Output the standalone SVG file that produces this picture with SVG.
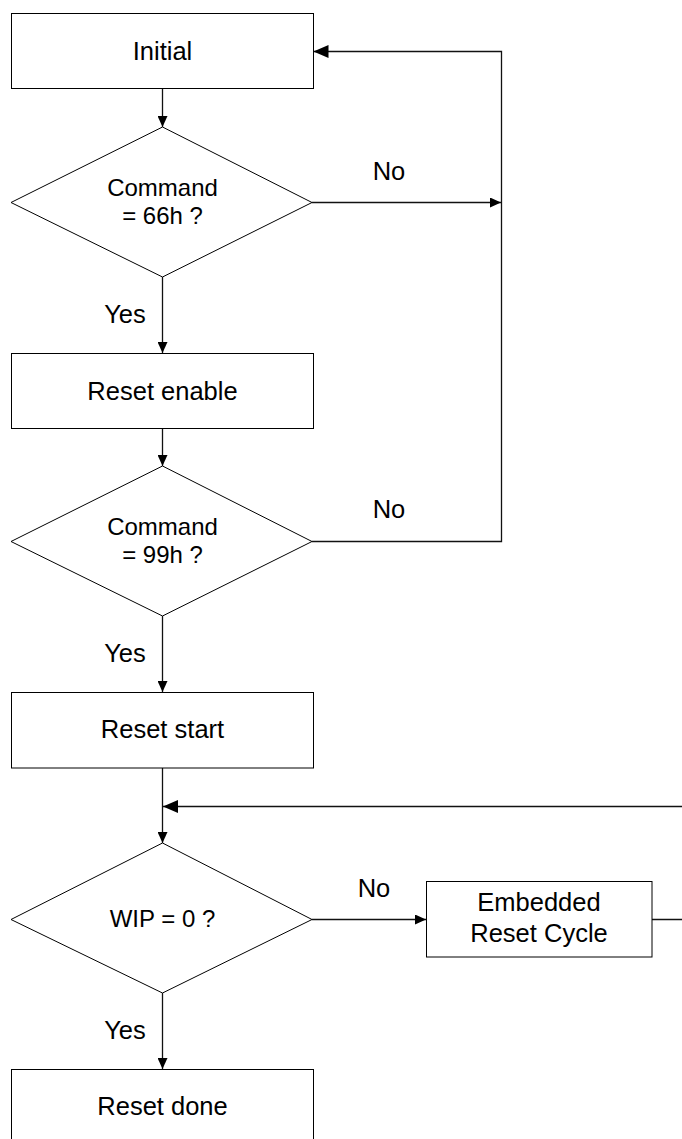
<svg xmlns="http://www.w3.org/2000/svg" width="682" height="1139" viewBox="0 0 682 1139">
<style>
.box{fill:#fff;stroke:#000;stroke-width:1}
.conn{fill:none;stroke:#111;stroke-width:1.3}
.t{font-family:"Liberation Sans",Arial,sans-serif;font-size:25.5px;fill:#000;text-anchor:middle}
.d{font-family:"Liberation Sans",Arial,sans-serif;font-size:24px;fill:#000;text-anchor:middle}
.l{font-family:"Liberation Sans",Arial,sans-serif;font-size:25.5px;fill:#000;text-anchor:middle}
</style>
<defs>
<marker id="ah" markerWidth="11" markerHeight="10" refX="11" refY="5" orient="auto" markerUnits="userSpaceOnUse">
<path d="M0,0 L11,5 L0,10 Z" fill="#000"/>
</marker>
<marker id="ahL" markerWidth="15" markerHeight="13" refX="15" refY="6.5" orient="auto" markerUnits="userSpaceOnUse">
<path d="M0,0 L15,6.5 L0,13 Z" fill="#000"/>
</marker>
</defs>
<g id="connectors">
<path class="conn" d="M162.5,88 V127" marker-end="url(#ah)"/>
<path class="conn" d="M312,202.5 H501" marker-end="url(#ah)"/>
<path class="conn" d="M312,541.5 H501.5 V51.5 H313.5" marker-end="url(#ahL)"/>
<path class="conn" d="M162.5,277 V353" marker-end="url(#ah)"/>
<path class="conn" d="M162.5,428 V466" marker-end="url(#ah)"/>
<path class="conn" d="M162.5,616 V692" marker-end="url(#ah)"/>
<path class="conn" d="M162.5,768 V843" marker-end="url(#ah)"/>
<path class="conn" d="M312,919.5 H426" marker-end="url(#ah)"/>
<path class="conn" d="M652,919.5 H700 V806.5 H163" marker-end="url(#ahL)"/>
<path class="conn" d="M162.5,993 V1069" marker-end="url(#ah)"/>
<text class="l" x="389" y="180">No</text>
<text class="l" x="389" y="518">No</text>
<text class="l" x="374" y="897">No</text>
<text class="l" x="125" y="323">Yes</text>
<text class="l" x="125" y="662">Yes</text>
<text class="l" x="125" y="1039">Yes</text>
</g>
<g id="initial">
<rect class="box" x="11.5" y="13.5" width="302" height="75"/>
<text class="t" x="162.5" y="59.5">Initial</text>
</g>
<g id="cmd66">
<polygon class="box" points="162.5,127 312,202.5 162.5,277 11,202.5"/>
<text class="d" x="162.5" y="196">Command</text>
<text class="d" x="162.5" y="224">= 66h ?</text>
</g>
<g id="reset-enable">
<rect class="box" x="11.5" y="353.5" width="302" height="75"/>
<text class="t" x="162.5" y="399.5">Reset enable</text>
</g>
<g id="cmd99">
<polygon class="box" points="162.5,466 312,541.5 162.5,616 11,541.5"/>
<text class="d" x="162.5" y="535">Command</text>
<text class="d" x="162.5" y="563">= 99h ?</text>
</g>
<g id="reset-start">
<rect class="box" x="11.5" y="692.5" width="302" height="75.5"/>
<text class="t" x="162.5" y="738">Reset start</text>
</g>
<g id="wip">
<polygon class="box" points="162.5,843 312,919.5 162.5,993 11,919.5"/>
<text class="d" x="162.5" y="927">WIP = 0 ?</text>
</g>
<g id="embedded">
<rect class="box" x="426.5" y="881.5" width="225.5" height="75.5"/>
<text class="t" x="539" y="911">Embedded</text>
<text class="t" x="539" y="942">Reset Cycle</text>
</g>
<g id="reset-done">
<rect class="box" x="11.5" y="1069.5" width="302" height="76"/>
<text class="t" x="162.5" y="1115">Reset done</text>
</g>
</svg>
